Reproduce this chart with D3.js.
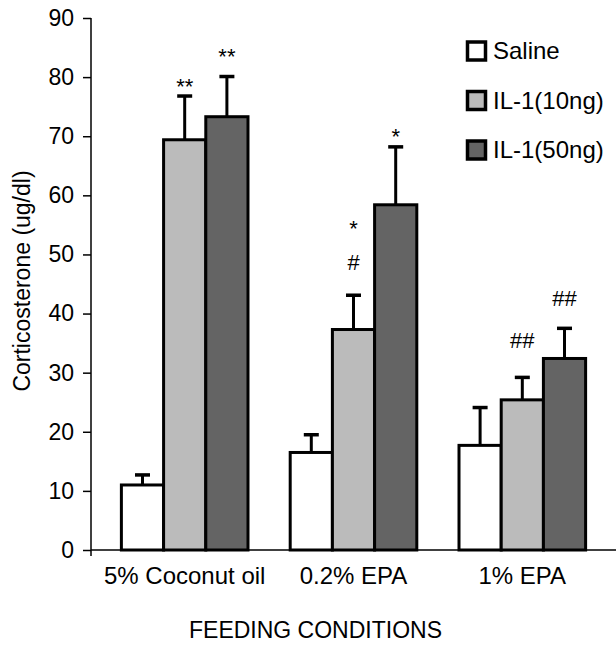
<!DOCTYPE html>
<html>
<head>
<meta charset="utf-8">
<script src="https://cdn.jsdelivr.net/npm/d3@7"></script>
<style>
  body { margin: 0; background: #fff; }
  svg text { font-family: "Liberation Sans", Arial, Helvetica, sans-serif; fill: #000; }
</style>
</head>
<body>
<div id="chart"></div>
<script>
var conditions = ['5% Coconut oil', '0.2% EPA', '1% EPA'];
var treatments = ['Saline', 'IL-1(10ng)', 'IL-1(50ng)'];
var colors = ['#ffffff', '#bbbbbb', '#646464'];

// mean values per condition, one array per treatment
var saline = [11.0, 16.5, 17.7];
var il10 = [69.4, 37.3, 25.4];
var il50 = [73.3, 58.4, 32.4];

// upper error (SEM) values
var salineErr = [1.7, 3.0, 6.4];
var il10Err = [7.4, 5.8, 3.8];
var il50Err = [6.8, 9.8, 5.1];

var yTicks = [0, 10, 20, 30, 40, 50, 60, 70, 80, 90];

// significance marks: condition, treatment, label, level (ug/dl)
var marks = [
  { c: 0, t: 1, label: '**', level: 77.1 },
  { c: 0, t: 2, label: '**', level: 82.3 },
  { c: 1, t: 1, label: '*', level: 53.1 },
  { c: 1, t: 1, label: '#', level: 47.4 },
  { c: 1, t: 2, label: '*', level: 68.7 },
  { c: 2, t: 1, label: '##', level: 34.2 },
  { c: 2, t: 2, label: '##', level: 41.3 }
];

var means = [saline, il10, il50];
var errs = [salineErr, il10Err, il50Err];

var width = 616, height = 645;
var mLeft = 91, mRight = 616, mTop = 18, mBottom = 550;

var svg = d3.select('#chart').append('svg')
  .attr('width', width)
  .attr('height', height);

var x0 = d3.scaleBand()
  .domain(conditions)
  .range([mLeft, mRight])
  .paddingInner(0.25)
  .paddingOuter(0.18);

var x1 = d3.scaleBand()
  .domain(treatments)
  .range([0, x0.bandwidth()]);

var y = d3.scaleLinear()
  .domain([0, 90])
  .range([mBottom, mTop]);

// build flat list of bars
var bars = [];
conditions.forEach(function(c, i) {
  treatments.forEach(function(t, j) {
    bars.push({ c: c, t: t, j: j, v: means[j][i], e: errs[j][i] });
  });
});

function barMid(d) { return x0(d.c) + x1(d.t) + x1.bandwidth() / 2; }

// error bars (drawn first so bar outline covers the stem base)
var errLayer = svg.append('g').attr('class', 'errors');
errLayer.selectAll('line.stem').data(bars)
  .enter().append('line')
  .attr('class', 'stem')
  .attr('x1', barMid)
  .attr('x2', barMid)
  .attr('y1', function(d) { return y(d.v); })
  .attr('y2', function(d) { return y(d.v + d.e); })
  .attr('stroke', '#000')
  .attr('stroke-width', 3);
errLayer.selectAll('line.cap').data(bars)
  .enter().append('line')
  .attr('class', 'cap')
  .attr('x1', function(d) { return barMid(d) - 7.5; })
  .attr('x2', function(d) { return barMid(d) + 7.5; })
  .attr('y1', function(d) { return y(d.v + d.e); })
  .attr('y2', function(d) { return y(d.v + d.e); })
  .attr('stroke', '#000')
  .attr('stroke-width', 3.5);

svg.append('g').selectAll('rect').data(bars)
  .enter().append('rect')
  .attr('x', function(d) { return x0(d.c) + x1(d.t); })
  .attr('y', function(d) { return y(d.v); })
  .attr('width', x1.bandwidth())
  .attr('height', function(d) { return y(0) - y(d.v); })
  .attr('fill', function(d) { return colors[d.j]; })
  .attr('stroke', '#000')
  .attr('stroke-width', 3);

// axes
var yAxis = d3.axisLeft(y).tickValues(yTicks).tickSize(8).tickPadding(9);
var gy = svg.append('g')
  .attr('transform', 'translate(' + mLeft + ',0)')
  .call(yAxis);
gy.select('.domain').remove();
gy.append('line')
  .attr('x1', 0).attr('x2', 0)
  .attr('y1', mTop).attr('y2', mBottom + 6)
  .attr('stroke', '#000').attr('stroke-width', 1.5);
gy.selectAll('.tick line').attr('stroke', '#000').attr('stroke-width', 1.5);
gy.selectAll('.tick text')
  .attr('font-size', 23)
  .attr('font-family', '"Liberation Sans", Arial, sans-serif');

svg.append('line')
  .attr('x1', mLeft).attr('x2', mRight)
  .attr('y1', y(0)).attr('y2', y(0))
  .attr('stroke', '#000').attr('stroke-width', 1.5);

svg.append('g').selectAll('text.cond').data(conditions)
  .enter().append('text')
  .attr('class', 'cond')
  .attr('x', function(d) { return x0(d) + x0.bandwidth() / 2; })
  .attr('y', 584)
  .attr('text-anchor', 'middle')
  .attr('font-size', 24)
  .text(function(d) { return d; });

svg.append('text')
  .attr('x', 189)
  .attr('y', 638)
  .attr('font-size', 23)
  .text('FEEDING CONDITIONS');

svg.append('text')
  .attr('transform', 'translate(30,281) rotate(-90)')
  .attr('text-anchor', 'middle')
  .attr('font-size', 23)
  .text('Corticosterone (ug/dl)');

// significance marks
svg.append('g').selectAll('text.mark').data(marks)
  .enter().append('text')
  .attr('x', function(d) { return x0(conditions[d.c]) + x1(treatments[d.t]) + x1.bandwidth() / 2; })
  .attr('y', function(d) { return y(d.level); })
  .attr('text-anchor', 'middle')
  .attr('font-size', 22)
  .text(function(d) { return d.label; });

// legend
var legend = svg.append('g').attr('transform', 'translate(466,0)');
var items = legend.selectAll('g').data(treatments)
  .enter().append('g')
  .attr('transform', function(d, i) { return 'translate(0,' + (51 + i * 49.5) + ')'; });
items.append('rect')
  .attr('x', 1.5).attr('y', -9)
  .attr('width', 18).attr('height', 18)
  .attr('fill', function(d, i) { return colors[i]; })
  .attr('stroke', '#000')
  .attr('stroke-width', 3.5);
items.append('text')
  .attr('x', 27)
  .attr('y', 8)
  .attr('font-size', 24)
  .text(function(d) { return d; });
</script>
</body>
</html>
